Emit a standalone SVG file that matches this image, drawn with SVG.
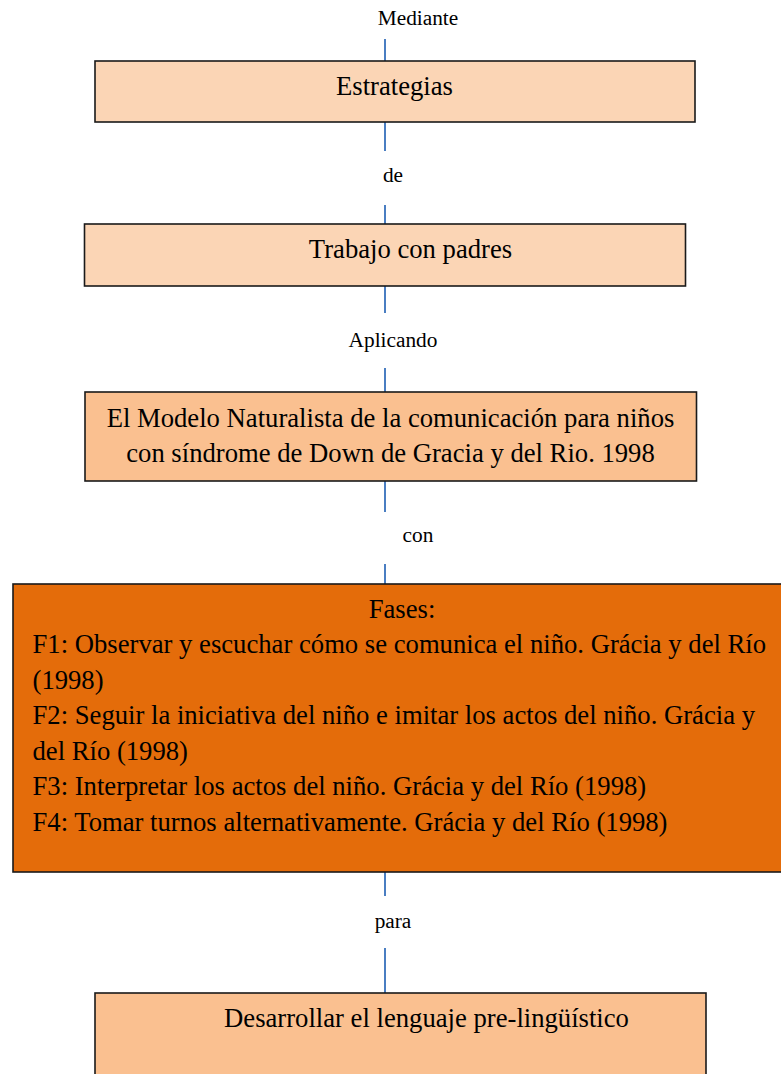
<svg xmlns="http://www.w3.org/2000/svg" width="781" height="1074" viewBox="0 0 781 1074">
<style>
.box{stroke:#1a1a1a;stroke-width:1.6}
.light{fill:#FBD5B5}
.mid{fill:#FAC090}
.dark{fill:#E46C0A}
text{font-family:'Liberation Serif','Times New Roman',Times,serif;fill:#000}
.t{font-size:26.67px}
.lbl{font-size:21.33px;text-anchor:middle}
.c{text-anchor:middle}
.conn{stroke:#4A7EC2;stroke-width:2;fill:none}
</style>
<rect width="781" height="1074" fill="#fff"/>
<g id="connectors">
<line class="conn" x1="385" y1="39" x2="385" y2="61"/>
<line class="conn" x1="385" y1="122" x2="385" y2="151"/>
<line class="conn" x1="385" y1="205" x2="385" y2="224"/>
<line class="conn" x1="385" y1="286" x2="385" y2="313"/>
<line class="conn" x1="385" y1="368" x2="385" y2="392"/>
<line class="conn" x1="385" y1="481" x2="385" y2="512"/>
<line class="conn" x1="385" y1="564" x2="385" y2="584"/>
<line class="conn" x1="385" y1="872" x2="385" y2="896"/>
<line class="conn" x1="385" y1="948" x2="385" y2="993"/>
</g>
<g id="labels">
<text class="lbl" x="418" y="25">Mediante</text>
<text class="lbl" x="393" y="182">de</text>
<text class="lbl" x="393" y="347">Aplicando</text>
<text class="lbl" x="418" y="542">con</text>
<text class="lbl" x="393" y="928">para</text>
</g>
<g id="estrategias">
<rect class="box light" x="95" y="61" width="600" height="61"/>
<text class="t c" x="394.5" y="94.5">Estrategias</text>
</g>
<g id="trabajo">
<rect class="box light" x="84.5" y="224" width="601" height="62"/>
<text class="t c" x="410.5" y="258">Trabajo con padres</text>
</g>
<g id="modelo">
<rect class="box mid" x="85" y="392" width="611.5" height="89"/>
<text class="t c" x="390.5" y="427">El Modelo Naturalista de la comunicación para niños</text>
<text class="t c" x="390.5" y="461.5">con síndrome de Down de Gracia y del Rio. 1998</text>
</g>
<g id="fases">
<rect class="box dark" x="13" y="584" width="790" height="288"/>
<text class="t c" x="402" y="618">Fases:</text>
<text class="t" x="32.5" y="653">F1: Observar y escuchar cómo se comunica el niño. Grácia y del Río</text>
<text class="t" x="32.5" y="688.5">(1998)</text>
<text class="t" x="32.5" y="724">F2: Seguir la iniciativa del niño e imitar los actos del niño. Grácia y</text>
<text class="t" x="32.5" y="759.5">del Río (1998)</text>
<text class="t" x="32.5" y="795">F3: Interpretar los actos del niño. Grácia y del Río (1998)</text>
<text class="t" x="32.5" y="830.5">F4: Tomar turnos alternativamente. Grácia y del Río (1998)</text>
</g>
<g id="desarrollar">
<rect class="box mid" x="95" y="993" width="611" height="100"/>
<text class="t c" x="426.5" y="1027">Desarrollar el lenguaje pre-lingüístico</text>
</g>
</svg>
